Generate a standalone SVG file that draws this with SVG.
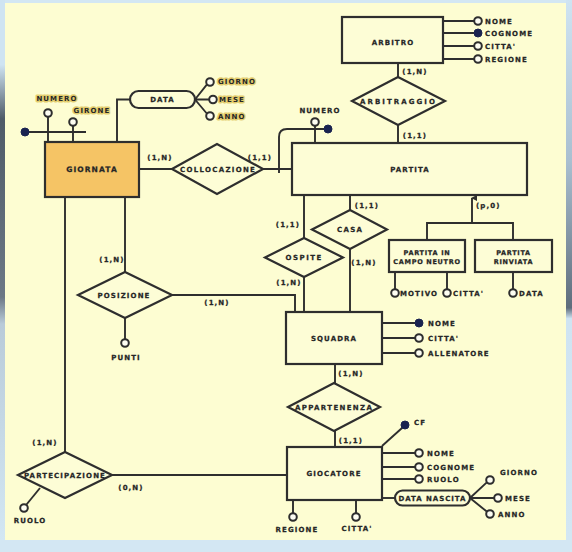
<svg xmlns="http://www.w3.org/2000/svg" width="572" height="552" viewBox="0 0 572 552">
<defs>
<linearGradient id="lg" x1="0" y1="0" x2="0" y2="1">
<stop offset="0" stop-color="#cfe4f2"/>
<stop offset="0.12" stop-color="#cfe4f2"/>
<stop offset="0.22" stop-color="#4f5b68"/>
<stop offset="0.55" stop-color="#6c7885"/>
<stop offset="0.6" stop-color="#b9cbd9"/>
<stop offset="1" stop-color="#d3e7f3"/>
</linearGradient>
<linearGradient id="rg" x1="0" y1="0" x2="0" y2="1">
<stop offset="0" stop-color="#cfe4f2"/>
<stop offset="0.3" stop-color="#a9bfd0"/>
<stop offset="0.57" stop-color="#5e6d7c"/>
<stop offset="0.59" stop-color="#cfe4f2"/>
<stop offset="1" stop-color="#d3e7f3"/>
</linearGradient>
<marker id="arr" viewBox="0 0 6 6" refX="3" refY="1" markerWidth="6" markerHeight="6" orient="auto-start-reverse" markerUnits="userSpaceOnUse">
<path d="M0,6 L3,0 L6,6 Z" fill="#2e2e2e"/>
</marker>
<style>
.t{font-family:"DejaVu Sans","Liberation Sans",sans-serif;font-weight:bold;font-size:7px;letter-spacing:1.1px;fill:#262626;stroke:#262626;stroke-width:0.25px;text-anchor:middle}
.s{text-anchor:start}
.hl{paint-order:stroke;stroke:#e3cd6e;stroke-width:3px;stroke-linejoin:round}
.big{font-size:7.5px}
.sm{font-size:6.5px;letter-spacing:0.7px}
.c{stroke:#2e2e2e;stroke-width:1.9;fill:none}
.box{fill:#fdfdd6;stroke:#2e2e2e;stroke-width:2.2}
.dia{fill:#fdfdd6;stroke:#2e2e2e;stroke-width:2.2}
.oc{fill:#fdfdf2;stroke:#2e2e2e;stroke-width:2}
.fc{fill:#1a2350;stroke:#1a2350;stroke-width:1}
</style>
</defs>
<rect x="0" y="0" width="572" height="552" fill="#d3e7f3"/>
<rect x="5" y="3" width="561" height="537" fill="#fdfdd2"/>
<rect x="0" y="0" width="5" height="540" fill="url(#lg)"/>
<rect x="566" y="0" width="6" height="540" fill="url(#rg)"/>

<g id="connectors">
<path class="c" d="M25,132 H86"/>
<path class="c" d="M48,142 V117"/>
<path class="c" d="M73,142 V126"/>
<path class="c" d="M117,142 V99.5 H130"/>
<path class="c" d="M195,99.5 L206.8,84.7 M195,99.5 H209 M195,99.5 L206.8,113.5"/>
<path class="c" d="M139,169 H172 M263,169 H292"/>
<path class="c" d="M279,173 V137 Q279,129 287,129 H324"/>
<path class="c" d="M315,143 V126"/>
<path class="c" d="M443,21 H474 M443,33 H474 M443,46 H474 M443,59 H474"/>
<path class="c" d="M398,63 V77 M398,125 V143"/>
<path class="c" d="M472,223 V198" marker-end="url(#arr)"/>
<path class="c" d="M427,240 V223 H513 V240"/>
<path class="c" d="M395,272 V289 M447,272 V289 M513,272 V289"/>
<path class="c" d="M350,195 V210 M350,249 V312"/>
<path class="c" d="M304,195 V238 M304,277 V312"/>
<path class="c" d="M125,197 V272"/>
<path class="c" d="M172,295 H295 V312"/>
<path class="c" d="M125,318 V339"/>
<path class="c" d="M382,323 H415 M382,338 H415 M382,353 H415"/>
<path class="c" d="M335,364 V383 M335,431 V447"/>
<path class="c" d="M382,446 L402.3,427.8"/>
<path class="c" d="M382,453 H415 M382,467 H415 M382,479 H415"/>
<path class="c" d="M382,498 H395"/>
<path class="c" d="M470,498 L486.8,482.4 M470,498 H494 M470,498 L486.8,511.6"/>
<path class="c" d="M293,500 V513 M356,500 V513"/>
<path class="c" d="M65,197 V452"/>
<path class="c" d="M112,475 H287"/>
<path class="c" d="M40,488 L26.5,504.5"/>
</g>

<g id="cardinalities">
<text class="t" x="160" y="160">(1,N)</text>
<text class="t" x="260" y="160">(1,1)</text>
<text class="t" x="415" y="74">(1,N)</text>
<text class="t" x="415" y="138">(1,1)</text>
<text class="t s" x="476" y="208">(p,0)</text>
<text class="t" x="367" y="208">(1,1)</text>
<text class="t" x="364" y="264.5">(1,N)</text>
<text class="t" x="288" y="227">(1,1)</text>
<text class="t" x="289" y="285">(1,N)</text>
<text class="t" x="112" y="262">(1,N)</text>
<text class="t" x="217" y="304.5">(1,N)</text>
<text class="t" x="351" y="375.5">(1,N)</text>
<text class="t" x="351" y="443">(1,1)</text>
<text class="t" x="45" y="445">(1,N)</text>
<text class="t" x="131" y="489.5">(0,N)</text>
</g>

<g id="giornata">
<rect x="45" y="142" width="94" height="55" fill="#f5c465" stroke="#2e2e2e" stroke-width="2.2"/>
<text class="t big" x="92" y="172">GIORNATA</text>
</g>
<g id="giornata-attributes">
<circle class="fc" cx="25" cy="132" r="4" fill="#1d2b6b"/>
<circle class="oc" cx="48" cy="113" r="3.8"/>
<circle class="oc" cx="73" cy="122" r="3.8"/>
<text class="t hl" x="57" y="101">NUMERO</text>
<text class="t hl" x="92" y="112.5">GIRONE</text>
<rect x="130" y="91" width="65" height="17" rx="8.5" class="box"/>
<text class="t" x="162.5" y="102">DATA</text>
<circle class="oc" cx="210" cy="82" r="3.8"/>
<circle class="oc" cx="213" cy="99.5" r="3.8"/>
<circle class="oc" cx="210" cy="116" r="3.8"/>
<text class="t s hl" x="218" y="84">GIORNO</text>
<text class="t s hl" x="219" y="102">MESE</text>
<text class="t s hl" x="218" y="118.5">ANNO</text>
</g>

<g id="collocazione">
<polygon class="dia" points="172,169 217,144 263,169 217,194"/>
<text class="t" x="218" y="171.5" textLength="76" lengthAdjust="spacing">COLLOCAZIONE</text>
</g>

<g id="partita">
<rect class="box" x="292" y="143" width="235" height="52"/>
<text class="t" x="410" y="172">PARTITA</text>
<circle class="oc" cx="315" cy="122" r="3.8"/>
<circle class="fc" cx="328" cy="129" r="4"/>
<text class="t" x="320" y="112.5">NUMERO</text>
</g>

<g id="arbitro">
<rect class="box" x="342" y="17" width="101" height="46"/>
<text class="t" x="393" y="44.5">ARBITRO</text>
<circle class="oc" cx="478" cy="21" r="3.8"/>
<circle class="fc" cx="478" cy="33" r="4"/>
<circle class="oc" cx="478" cy="46" r="3.8"/>
<circle class="oc" cx="478" cy="59" r="3.8"/>
<text class="t s" x="485" y="23.5">NOME</text>
<text class="t s" x="485" y="35.5">COGNOME</text>
<text class="t s" x="485" y="48.5">CITTA'</text>
<text class="t s" x="485" y="61.5">REGIONE</text>
</g>

<g id="arbitraggio">
<polygon class="dia" points="352,101 398,77 445,101 398,125"/>
<text class="t" x="398" y="103.5" textLength="76" lengthAdjust="spacing">ARBITRAGGIO</text>
</g>

<g id="partita-campo-neutro">
<rect class="box" x="389" y="240" width="76" height="32"/>
<text class="t sm" x="427" y="254.5">PARTITA IN</text>
<text class="t sm" x="427" y="264">CAMPO NEUTRO</text>
<circle class="oc" cx="395" cy="293" r="3.8"/>
<circle class="oc" cx="447" cy="293" r="3.8"/>
<text class="t s" x="400" y="295.5">MOTIVO</text>
<text class="t s" x="453" y="295.5">CITTA'</text>
</g>

<g id="partita-rinviata">
<rect class="box" x="475" y="240" width="77" height="32"/>
<text class="t sm" x="513.5" y="254.5">PARTITA</text>
<text class="t sm" x="513.5" y="264">RINVIATA</text>
<circle class="oc" cx="513" cy="293" r="3.8"/>
<text class="t s" x="519" y="295.5">DATA</text>
</g>

<g id="casa">
<polygon class="dia" points="312,229.5 350,210 387,229.5 350,249"/>
<text class="t" x="350" y="232" textLength="26" lengthAdjust="spacing">CASA</text>
</g>

<g id="ospite">
<polygon class="dia" points="265,257.5 304,238 343,257.5 304,277"/>
<text class="t" x="304" y="260" textLength="37" lengthAdjust="spacing">OSPITE</text>
</g>

<g id="posizione">
<polygon class="dia" points="78,295 125,272 172,295 125,318"/>
<text class="t" x="124" y="297.5" textLength="53" lengthAdjust="spacing">POSIZIONE</text>
<circle class="oc" cx="125" cy="343" r="3.8"/>
<text class="t" x="126" y="360">PUNTI</text>
</g>

<g id="squadra">
<rect class="box" x="286" y="312" width="96" height="52"/>
<text class="t" x="334" y="340.5">SQUADRA</text>
<circle class="fc" cx="419" cy="323" r="4"/>
<circle class="oc" cx="419" cy="338" r="3.8"/>
<circle class="oc" cx="419" cy="353" r="3.8"/>
<text class="t s" x="428" y="325.5">NOME</text>
<text class="t s" x="428" y="340.5">CITTA'</text>
<text class="t s" x="428" y="355.5">ALLENATORE</text>
</g>

<g id="appartenenza">
<polygon class="dia" points="288,407 334,383 380,407 334,431"/>
<text class="t" x="334" y="409.5" textLength="78" lengthAdjust="spacing">APPARTENENZA</text>
</g>

<g id="giocatore">
<rect class="box" x="287" y="447" width="95" height="53"/>
<text class="t" x="334" y="476">GIOCATORE</text>
<circle class="fc" cx="405" cy="425" r="4"/>
<text class="t s" x="414" y="425">CF</text>
<circle class="oc" cx="419" cy="453" r="3.8"/>
<circle class="oc" cx="419" cy="467" r="3.8"/>
<circle class="oc" cx="419" cy="479" r="3.8"/>
<text class="t s" x="427" y="455.5">NOME</text>
<text class="t s" x="427" y="469.5">COGNOME</text>
<text class="t s" x="427" y="481.5">RUOLO</text>
<rect class="box" x="395" y="490.5" width="75" height="15" rx="7.5"/>
<text class="t" x="432.5" y="500.5" textLength="68" lengthAdjust="spacing">DATA NASCITA</text>
<circle class="oc" cx="490" cy="480" r="3.8"/>
<circle class="oc" cx="498" cy="498" r="3.8"/>
<circle class="oc" cx="490" cy="514" r="3.8"/>
<text class="t s" x="500" y="475">GIORNO</text>
<text class="t s" x="505" y="500.5">MESE</text>
<text class="t s" x="498" y="516.5">ANNO</text>
<circle class="oc" cx="293" cy="517" r="3.8"/>
<circle class="oc" cx="356" cy="517" r="3.8"/>
<text class="t" x="297" y="532">REGIONE</text>
<text class="t" x="357" y="531">CITTA'</text>
</g>

<g id="partecipazione">
<polygon class="dia" points="18,475 65,452 112,475 65,498"/>
<text class="t" x="65" y="477.5" textLength="82" lengthAdjust="spacing">PARTECIPAZIONE</text>
<circle class="oc" cx="24" cy="508" r="3.8"/>
<text class="t" x="30" y="523">RUOLO</text>
</g>
</svg>
